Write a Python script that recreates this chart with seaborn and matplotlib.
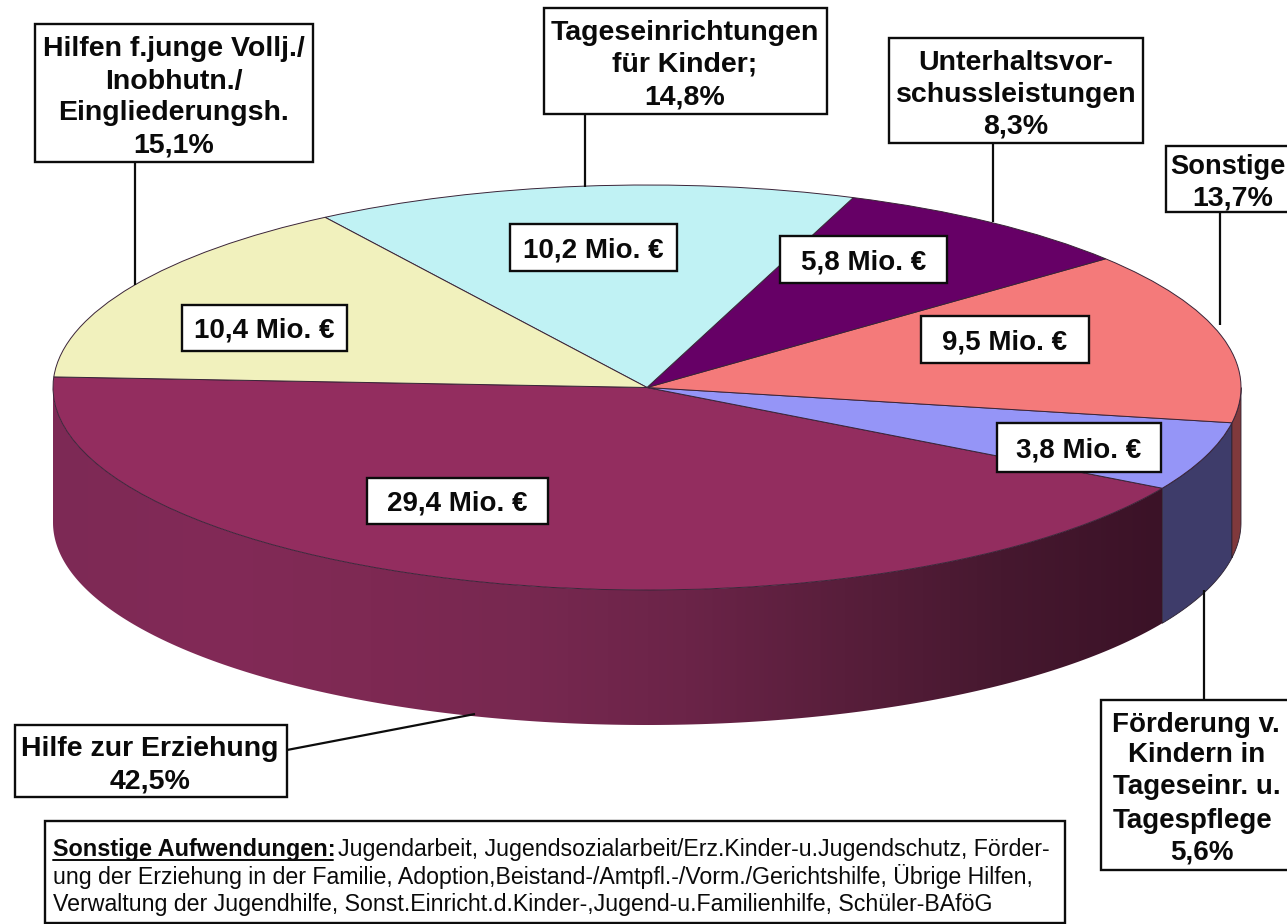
import numpy as np
import matplotlib
matplotlib.use("Agg")
import matplotlib.pyplot as plt
from matplotlib.patches import Rectangle, Polygon
import seaborn as sns

# Aufwendungen in Mio. Euro, counterclockwise from the left edge
categories = [
    "Hilfe zur Erziehung",
    "Förderung v. Kindern",
    "Sonstige",
    "Unterhaltsvorschussleistungen",
    "Tageseinrichtungen",
    "Hilfen f.junge Vollj.",
]
mio_values = [29.4, 3.8, 9.5, 5.8, 10.2, 10.4]
percent_labels = ["42,5%", "5,6%", "13,7%", "8,3%", "14,8%", "15,1%"]

top_colors = ["#932d5f", "#9595f7", "#f47a7a", "#660066", "#c0f2f4", "#f1f1bd"]
wall_colors = {1: "#3e3c6a", 2: "#80393c"}
wall_stops = ["#7d2955", "#822a57", "#7e2953", "#772850", "#6b2448", "#581e3b", "#46182f", "#3b1227"]

note_head = "Sonstige Aufwendungen:"
note_lines = [
    "Jugendarbeit, Jugendsozialarbeit/Erz.Kinder-u.Jugendschutz, Förder-",
    "ung der Erziehung in der Familie, Adoption,Beistand-/Amtpfl.-/Vorm./Gerichtshilfe, Übrige Hilfen,",
    "Verwaltung der Jugendhilfe, Sonst.Einricht.d.Kinder-,Jugend-u.Familienhilfe, Schüler-BAföG",
]

W, H = 1287, 924
CX, CY, RX, RY = 647, 387.5, 594, 202.5
DEPTH = 135 / RY
START = 177

sns.set_theme(style="white")
plt.rcParams["font.family"] = ["Liberation Sans", "DejaVu Sans"]

fig = plt.figure(figsize=(W / 100, H / 100), dpi=100, facecolor="white")

# pie axes: one data unit is RX px across and RY px high, which squashes the circle
ax = fig.add_axes([0, 0, 1, 1])
angles = START + np.cumsum([0] + mio_values) / sum(mio_values) * 360


def wall_polygon(a, b):
    t = np.radians(np.linspace(a, b, 200))
    x, y = np.cos(t), np.sin(t)
    return np.vstack([np.c_[x, y], np.c_[x, y - DEPTH][::-1]])


# side wall, only the front half can be seen
grad = sns.blend_palette(wall_stops, as_cmap=True)
front = wall_polygon(180, angles[1])
im = ax.imshow(
    np.linspace(0, 1, 500)[None, :],
    cmap=grad,
    extent=[-1, np.cos(np.radians(angles[1])), -1 - DEPTH, 0],
    aspect="auto",
    zorder=1,
)
clip = Polygon(front, closed=True, transform=ax.transData, fc="none", ec="none")
ax.add_patch(clip)
im.set_clip_path(clip)

for i, c in wall_colors.items():
    ax.add_patch(
        Polygon(
            wall_polygon(angles[i], min(angles[i + 1], 360)),
            closed=True,
            fc=c,
            ec="#2b2030",
            lw=0.6,
            zorder=1,
        )
    )

wedges, _ = ax.pie(
    mio_values,
    colors=top_colors,
    startangle=START,
    counterclock=True,
    radius=1,
    wedgeprops={"edgecolor": "#3a2438", "linewidth": 0.7, "zorder": 2},
)
ax.set_aspect("auto")
ax.set_xlim(-CX / RX, (W - CX) / RX)
ax.set_ylim((CY - H) / RY, CY / RY)
ax.axis("off")

# everything else sits on a pixel axes on top
ov = fig.add_axes([0, 0, 1, 1], facecolor="none")
ov.set_xlim(0, W)
ov.set_ylim(H, 0)
ov.axis("off")


def box(x0, y0, x1, y1, lw=1.7):
    ov.add_patch(Rectangle((x0, y0), x1 - x0, y1 - y0, fc="white", ec="#0c0c0c", lw=lw, zorder=3))


def lead(xs, ys):
    ov.plot(xs, ys, color="#0c0c0c", lw=1.6, zorder=2.5, solid_capstyle="butt")


def label(x, y, s, size=20.5, ha="center", weight="bold"):
    return ov.text(x, y + 2.5, s, fontsize=size, ha=ha, va="center", weight=weight, color="#0a0a0a", zorder=4)


lead([135, 135], [162, 285])
lead([585, 585], [114, 187])
lead([993, 993], [143, 222])
lead([1220, 1220], [212, 325])
lead([1204, 1204], [700, 590])
lead([287, 475], [750, 714])

box(35, 24, 313, 162)
for y, s in zip([46, 79, 111, 143], ["Hilfen f.junge Vollj./", "Inobhutn./", "Eingliederungsh.", percent_labels[5]]):
    label(174, y, s)

box(544, 8, 827, 114)
for y, s in zip([30, 62, 95], ["Tageseinrichtungen", "für Kinder;", percent_labels[4]]):
    label(685, y, s)

box(889, 38, 1143, 143)
for y, s in zip([60, 92, 124], ["Unterhaltsvor-", "schussleistungen", percent_labels[3]]):
    label(1016, y, s)

box(1166, 146, 1300, 212)
label(1170, 164, "Sonstige", size=19.6, ha="left")
label(1233, 196, percent_labels[2])

box(1101, 700, 1300, 870)
for x, y, s in zip(
    [1112, 1128, 1113, 1113, 1170],
    [722, 752, 785, 818, 850],
    ["Förderung v.", "Kindern in", "Tageseinr. u.", "Tagespflege", percent_labels[1]],
):
    label(x, y, s, size=20, ha="left")

box(15, 725, 287, 797)
for y, s in zip([747, 779], ["Hilfe zur Erziehung", percent_labels[0]]):
    label(150, y, s)

# Mio. value boxes, same order as mio_values
value_boxes = [
    (367, 478, 548, 524),
    (997, 423, 1161, 472),
    (921, 316, 1089, 363),
    (780, 236, 947, 283),
    (510, 224, 677, 271),
    (182, 305, 347, 351),
]
for v, (x0, y0, x1, y1) in zip(mio_values, value_boxes):
    box(x0, y0, x1, y1)
    label((x0 + x1) / 2, (y0 + y1) / 2, f"{v:.1f}".replace(".", ",") + " Mio. €", size=20)

# note at the bottom
box(45, 821, 1065, 923)
label(53, 847, note_head, size=16.9, ha="left")
ov.plot([53, 333], [860, 860], color="#0a0a0a", lw=1.4, zorder=4)
label(338, 847, note_lines[0], size=16.7, ha="left", weight="normal")
label(53, 874, note_lines[1], size=16.7, ha="left", weight="normal")
label(53, 902, note_lines[2], size=16.7, ha="left", weight="normal")

fig.savefig("out.png", dpi=100)
